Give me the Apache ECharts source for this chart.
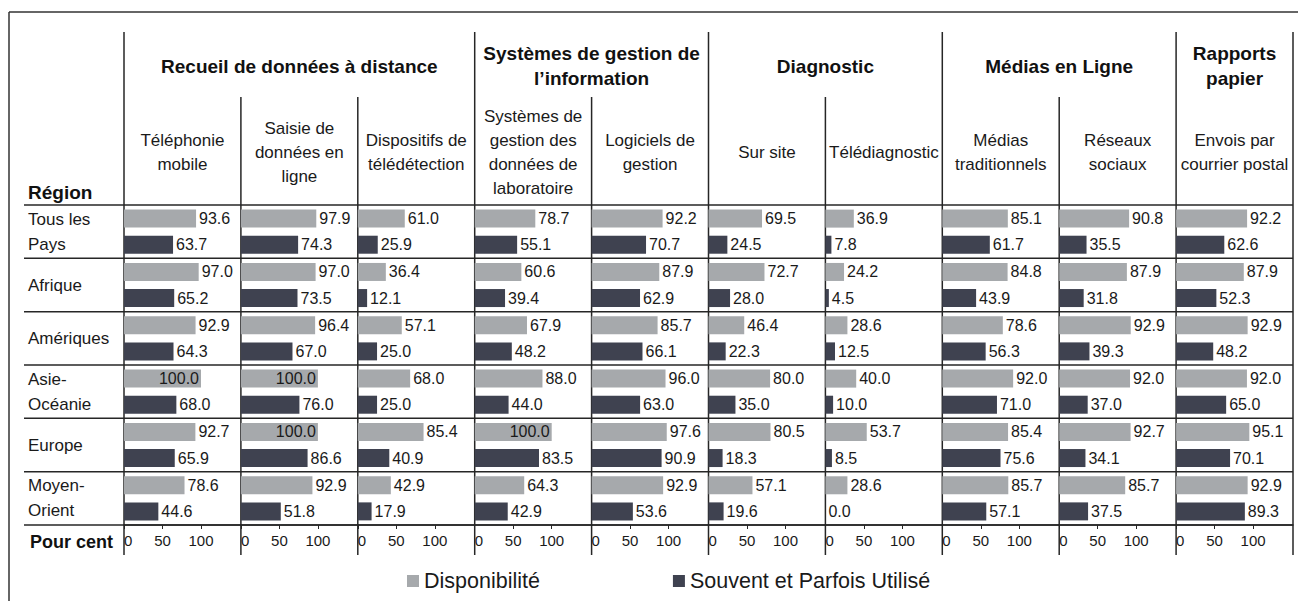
<!DOCTYPE html>
<html>
<head>
<meta charset="utf-8">
<script src="https://cdn.jsdelivr.net/npm/echarts@6/dist/echarts.min.js"></script>
<style>
  html, body { margin: 0; padding: 0; background: #fff; }
  #chart { width: 1298px; height: 601px; }
</style>
</head>
<body>
<div id="chart"></div>
<script>
// régions (lignes du tableau)
var regions = ['Tous les\nPays', 'Afrique', 'Amériques', 'Asie-\nOcéanie', 'Europe', 'Moyen-\nOrient'];
// sous-colonnes
var sousColonnes = ['Téléphonie\nmobile', 'Saisie de\ndonnées en\nligne', 'Dispositifs de\ntélédétection',
    'Systèmes de\ngestion des\ndonnées de\nlaboratoire', 'Logiciels de\ngestion', 'Sur site', 'Télédiagnostic',
    'Médias\ntraditionnels', 'Réseaux\nsociaux', 'Envois par\ncourrier postal'];
// groupes de colonnes
var groupes = ['Recueil de données à distance', 'Systèmes de gestion de\nl\u2019information', 'Diagnostic', 'Médias en Ligne', 'Rapports\npapier'];
var groupeDebut = [0, 3, 5, 7, 9];
var groupeFin = [3, 5, 7, 9, 10];
var axeTicks = [0, 50, 100];

// Disponibilité, une liste par sous-colonne (ordre des régions)
var disponibilite = [
    [93.6, 97.0, 92.9, 100.0, 92.7, 78.6],
    [97.9, 97.0, 96.4, 100.0, 100.0, 92.9],
    [61.0, 36.4, 57.1, 68.0, 85.4, 42.9],
    [78.7, 60.6, 67.9, 88.0, 100.0, 64.3],
    [92.2, 87.9, 85.7, 96.0, 97.6, 92.9],
    [69.5, 72.7, 46.4, 80.0, 80.5, 57.1],
    [36.9, 24.2, 28.6, 40.0, 53.7, 28.6],
    [85.1, 84.8, 78.6, 92.0, 85.4, 85.7],
    [90.8, 87.9, 92.9, 92.0, 92.7, 85.7],
    [92.2, 87.9, 92.9, 92.0, 95.1, 92.9]
];
// Souvent et Parfois Utilisé
var utilisation = [
    [63.7, 65.2, 64.3, 68.0, 65.9, 44.6],
    [74.3, 73.5, 67.0, 76.0, 86.6, 51.8],
    [25.9, 12.1, 25.0, 25.0, 40.9, 17.9],
    [55.1, 39.4, 48.2, 44.0, 83.5, 42.9],
    [70.7, 62.9, 66.1, 63.0, 90.9, 53.6],
    [24.5, 28.0, 22.3, 35.0, 18.3, 19.6],
    [7.8, 4.5, 12.5, 10.0, 8.5, 0.0],
    [61.7, 43.9, 56.3, 71.0, 75.6, 57.1],
    [35.5, 31.8, 39.3, 37.0, 34.1, 37.5],
    [62.6, 52.3, 48.2, 65.0, 70.1, 89.3]
];

var FONT = '"Liberation Sans", Arial, sans-serif';
var GRIS = '#a6a9ac';
var FONCE = '#3f4250';
var TRAIT = '#262626';

// mise en page
var tableGauche = 124, tableDroite = 1293;
var colW = (tableDroite - tableGauche) / sousColonnes.length;
var haut = 205, bas = 525;
var rangH = (bas - haut) / regions.length;
var pxParCent = 77;

function colX(i) { return tableGauche + i * colW; }

var myChart = echarts.init(document.getElementById('chart'), null, { renderer: 'svg' });

var grids = [], xAxes = [], yAxes = [], series = [], graphics = [];

function etiquette(v) {
    var item = { value: v };
    if (v >= 100) {
        item.label = { position: 'insideRight', distance: 2 };
    }
    return item;
}

sousColonnes.forEach(function (nom, i) {
    grids.push({ left: colX(i), top: haut, width: colW, height: bas - haut });
    xAxes.push({
        gridIndex: i, type: 'value', min: 0, max: colW / pxParCent * 100,
        axisLine: { show: true, lineStyle: { color: TRAIT, width: 1.5 } },
        axisTick: { show: true, customValues: axeTicks, length: 4, lineStyle: { color: TRAIT } },
        axisLabel: { customValues: axeTicks, color: '#1a1a1a', fontSize: 15, fontFamily: FONT, margin: 8, alignMinLabel: 'left' },
        splitLine: { show: false }
    });
    yAxes.push({
        gridIndex: i, type: 'category', inverse: true, data: regions,
        axisLine: { show: false }, axisTick: { show: false },
        axisLabel: {
            show: i === 0, align: 'left', margin: tableGauche - 28,
            color: '#1a1a1a', fontSize: 17, fontFamily: FONT, lineHeight: 25
        }
    });
    var lbl = {
        show: true, position: 'right', distance: 3, color: '#1a1a1a', fontSize: 16, fontFamily: FONT,
        formatter: function (p) { return p.value.toFixed(1); }
    };
    series.push({
        name: 'Disponibilité', type: 'bar', xAxisIndex: i, yAxisIndex: i,
        barWidth: 18, barGap: '45%', itemStyle: { color: GRIS }, label: lbl,
        data: disponibilite[i].map(etiquette), silent: true
    });
    series.push({
        name: 'Souvent et Parfois Utilisé', type: 'bar', xAxisIndex: i, yAxisIndex: i,
        barWidth: 18, barGap: '45%', itemStyle: { color: FONCE }, label: lbl,
        data: utilisation[i].map(etiquette), silent: true
    });
    // titre de sous-colonne
    graphics.push({
        type: 'text', x: colX(i) + colW / 2, y: 152,
        style: { text: nom, fontSize: 17, fontFamily: FONT, fill: '#1a1a1a', lineHeight: 24, align: 'center', verticalAlign: 'middle' }
    });
});

// titres de groupes
groupes.forEach(function (g, k) {
    graphics.push({
        type: 'text', x: (colX(groupeDebut[k]) + colX(groupeFin[k])) / 2, y: 66,
        style: { text: g, fontSize: 19, fontWeight: 'bold', fontFamily: FONT, fill: '#111', lineHeight: 25, align: 'center', verticalAlign: 'middle' }
    });
});

// traits verticaux
for (var i = 0; i <= sousColonnes.length; i++) {
    var debut = (groupeDebut.indexOf(i) >= 0 || i === sousColonnes.length) ? 32 : 97;
    graphics.push({ type: 'line', shape: { x1: colX(i), y1: debut, x2: colX(i), y2: 555 }, style: { stroke: TRAIT, lineWidth: 1.5 } });
}
// traits horizontaux
for (var r = 0; r <= regions.length; r++) {
    var y = haut + r * rangH;
    graphics.push({ type: 'line', shape: { x1: 24, y1: y, x2: tableDroite, y2: y }, style: { stroke: TRAIT, lineWidth: 1.5 } });
}
// cadre extérieur
graphics.push({ type: 'line', shape: { x1: 9, y1: 12, x2: 1298, y2: 12 }, style: { stroke: '#333', lineWidth: 1.5 } });
graphics.push({ type: 'line', shape: { x1: 9, y1: 12, x2: 9, y2: 601 }, style: { stroke: '#333', lineWidth: 1.5 } });
// en-têtes de lignes
graphics.push({ type: 'text', x: 28, y: 192, style: { text: 'Région', fontSize: 19, fontWeight: 'bold', fontFamily: FONT, fill: '#111', verticalAlign: 'middle' } });
graphics.push({ type: 'text', x: 113, y: 542, style: { text: 'Pour cent', fontSize: 18, fontWeight: 'bold', fontFamily: FONT, fill: '#111', align: 'right', verticalAlign: 'middle' } });

var option = {
    animation: false,
    backgroundColor: '#fff',
    legend: {
        left: 402, top: 565, icon: 'rect', itemWidth: 12, itemHeight: 12, itemGap: 133,
        data: ['Disponibilité', 'Souvent et Parfois Utilisé'],
        textStyle: { fontSize: 21.5, fontFamily: FONT, color: '#1a1a1a' }
    },
    grid: grids,
    xAxis: xAxes,
    yAxis: yAxes,
    series: series,
    graphic: graphics
};
myChart.setOption(option);
</script>
</body>
</html>
